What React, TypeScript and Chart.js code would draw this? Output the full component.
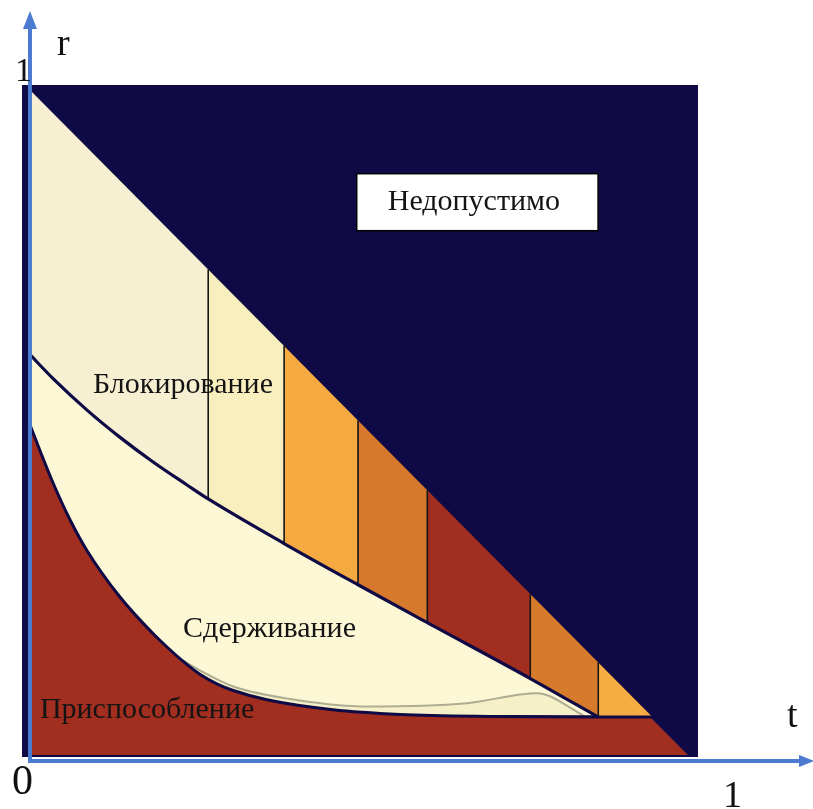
import React, { useEffect, useRef } from "react";
import { Chart, registerables } from "chart.js";
Chart.register(...registerables);

// Strip boundaries along t and the diagonal r = 1 - t at each boundary
const stripT = [0, 0.27, 0.385, 0.497, 0.602, 0.758, 0.861, 0.943];
const diagR = [1.0, 0.73, 0.615, 0.503, 0.398, 0.242, 0.139, 0.057];
const stripColors = ["#f6efd2", "#f9efbe", "#f4aa40", "#d6792c", "#a22e20", "#d67b2c", "#f5ad43"];

// Upper boundary curve (Блокирование / Сдерживание)
const upperT = [0, 0.035, 0.086, 0.136, 0.186, 0.238, 0.27, 0.385, 0.497, 0.602, 0.758, 0.861];
const upperR = [0.602, 0.566, 0.519, 0.478, 0.441, 0.406, 0.385, 0.318, 0.256, 0.199, 0.115, 0.057];

// Lower boundary curve (Сдерживание / Приспособление)
const lowerT = [0, 0.035, 0.061, 0.086, 0.136, 0.186, 0.208, 0.233, 0.258, 0.283, 0.308, 0.359, 0.459, 0.561, 0.7, 0.861];
const lowerR = [0.496, 0.409, 0.353, 0.308, 0.238, 0.183, 0.162, 0.14, 0.121, 0.107, 0.097, 0.083, 0.068, 0.061, 0.058, 0.057];

// Bottom band of Приспособление to the diagonal
const bandT = [0.7, 0.861, 0.943, 1.0];
const bandR = [0.058, 0.057, 0.057, 0.0];

// Faint ghost curve inside Сдерживание
const ghostT = [0.192, 0.258, 0.308, 0.409, 0.511, 0.662, 0.768, 0.838];
const ghostR = [0.166, 0.127, 0.103, 0.082, 0.073, 0.078, 0.093, 0.06];

const regionLabels = ["Блокирование", "Сдерживание", "Приспособление", "Недопустимо"];
const labelT = [0.0955, 0.232, 0.015, 0.542];
const labelR = [0.544, 0.177, 0.056, 0.82];

const NAVY = "#0f0a45";
const RED = "#a22e20";
const PALE = "#fcf8d5";

const pts = (ts: number[], rs: number[]) => ts.map((t, i) => ({ x: t, y: rs[i] }));

export default function App() {
  const ref = useRef<HTMLCanvasElement | null>(null);
  useEffect(() => {
    document.body.style.margin = "0";
    const canvas = ref.current!;
    const ds: any[] = [];
    // strips
    for (let i = 0; i < stripColors.length; i++) {
      ds.push({
        data: [
          { x: stripT[i], y: diagR[i] },
          { x: stripT[i + 1], y: diagR[i + 1] },
        ],
        fill: "origin",
        backgroundColor: stripColors[i],
        borderWidth: 0,
        borderColor: "rgba(0,0,0,0)",
        pointRadius: 0,
      });
    }
    // vertical separators
    for (let i = 1; i < stripT.length - 1; i++) {
      ds.push({
        data: [
          { x: stripT[i], y: 0 },
          { x: stripT[i], y: diagR[i] },
        ],
        fill: false,
        borderColor: "#161616",
        borderWidth: 1.6,
        pointRadius: 0,
      });
    }
    // middle region fill
    ds.push({
      data: pts(upperT, upperR),
      fill: "origin",
      backgroundColor: PALE,
      borderWidth: 0,
      borderColor: "rgba(0,0,0,0)",
      cubicInterpolationMode: "monotone",
      pointRadius: 0,
    });
    // ghost curve
    ds.push({
      data: pts(ghostT, ghostR),
      fill: "origin",
      backgroundColor: "#f6f0c9",
      borderColor: "rgba(150,150,125,0.75)",
      borderWidth: 2,
      cubicInterpolationMode: "monotone",
      pointRadius: 0,
    });
    // red lower region
    ds.push({
      data: pts(lowerT, lowerR),
      fill: "origin",
      backgroundColor: RED,
      borderColor: NAVY,
      borderWidth: 3,
      cubicInterpolationMode: "monotone",
      pointRadius: 0,
    });
    ds.push({
      data: pts(bandT, bandR),
      fill: "origin",
      backgroundColor: RED,
      borderColor: NAVY,
      borderWidth: 3,
      pointRadius: 0,
    });
    // upper outline
    ds.push({
      data: pts(upperT, upperR),
      fill: false,
      borderColor: NAVY,
      borderWidth: 3.2,
      cubicInterpolationMode: "monotone",
      pointRadius: 0,
    });
    // Chart.js draws first dataset on top -> reverse
    const datasets = ds.slice().reverse();

    const bgPlugin = {
      id: "bg",
      beforeDatasetsDraw(chart: any) {
        const { ctx, chartArea } = chart;
        ctx.save();
        ctx.fillStyle = NAVY;
        ctx.fillRect(chartArea.left, chartArea.top, chartArea.right - chartArea.left, chartArea.bottom - chartArea.top);
        ctx.restore();
      },
    };

    const overlay = {
      id: "overlay",
      afterDraw(chart: any) {
        const { ctx } = chart;
        const xs = chart.scales.x;
        const ys = chart.scales.y;
        const x0 = xs.getPixelForValue(0);
        const y0 = ys.getPixelForValue(0);
        const W = chart.width;
        ctx.save();
        // region labels
        ctx.textBaseline = "alphabetic";
        ctx.textAlign = "left";
        ctx.font = '30px "Liberation Serif", "Times New Roman", serif';
        regionLabels.forEach((txt, i) => {
          const px = xs.getPixelForValue(labelT[i]);
          const py = ys.getPixelForValue(labelR[i]);
          if (i === 3) {
            const w = ctx.measureText(txt).width;
            const bx = px - 31;
            const bw = w + 31 + 38;
            ctx.fillStyle = "#ffffff";
            ctx.fillRect(bx, py - 36, bw, 57);
            ctx.strokeStyle = "#000";
            ctx.lineWidth = 1.5;
            ctx.strokeRect(bx, py - 36, bw, 57);
          }
          ctx.fillStyle = "#141414";
          ctx.fillText(txt, px, py);
        });

        // axes
        const blue = "#4a7bd0";
        ctx.strokeStyle = blue;
        ctx.fillStyle = blue;
        ctx.lineWidth = 4;
        ctx.beginPath();
        ctx.moveTo(x0, y0 + 8);
        ctx.lineTo(x0, 26);
        ctx.stroke();
        ctx.beginPath();
        ctx.moveTo(x0, 11);
        ctx.lineTo(x0 - 7, 29);
        ctx.lineTo(x0 + 7, 29);
        ctx.closePath();
        ctx.fill();
        const ya = y0 + 6;
        ctx.beginPath();
        ctx.moveTo(x0 - 2, ya);
        ctx.lineTo(W - 10, ya);
        ctx.stroke();
        ctx.beginPath();
        ctx.moveTo(W + 1, ya);
        ctx.lineTo(W - 14, ya - 6);
        ctx.lineTo(W - 14, ya + 6);
        ctx.closePath();
        ctx.fill();

        // axis labels
        ctx.fillStyle = "#111";
        ctx.font = '38px "Liberation Serif", "Times New Roman", serif';
        ctx.fillText("r", x0 + 27, 55);
        ctx.fillText("t", W - 26, 727);
        ctx.fillText("1", xs.getPixelForValue(1) + 33, 807);
        ctx.font = '42px "Liberation Serif", "Times New Roman", serif';
        ctx.fillText("0", x0 - 18, 794);
        ctx.font = '34px "Liberation Serif", "Times New Roman", serif';
        ctx.fillText("1", x0 - 15, 81);
        ctx.restore();
      },
    };

    const chart = new Chart(canvas, {
      type: "line",
      data: { datasets },
      options: {
        animation: false,
        responsive: false,
        layout: { padding: { left: 22, right: 115, top: 85, bottom: 52 } },
        scales: {
          x: { type: "linear", min: -0.0121, max: 1.0121, display: false },
          y: { type: "linear", min: -0.003, max: 1.0075, display: false },
        },
        plugins: { legend: { display: false }, tooltip: { enabled: false } },
        elements: { point: { radius: 0 }, line: { tension: 0 } },
      },
      plugins: [bgPlugin, overlay],
    } as any);
    return () => chart.destroy();
  }, []);
  return <canvas ref={ref} width={813} height={809} style={{ display: "block" }} />;
}
